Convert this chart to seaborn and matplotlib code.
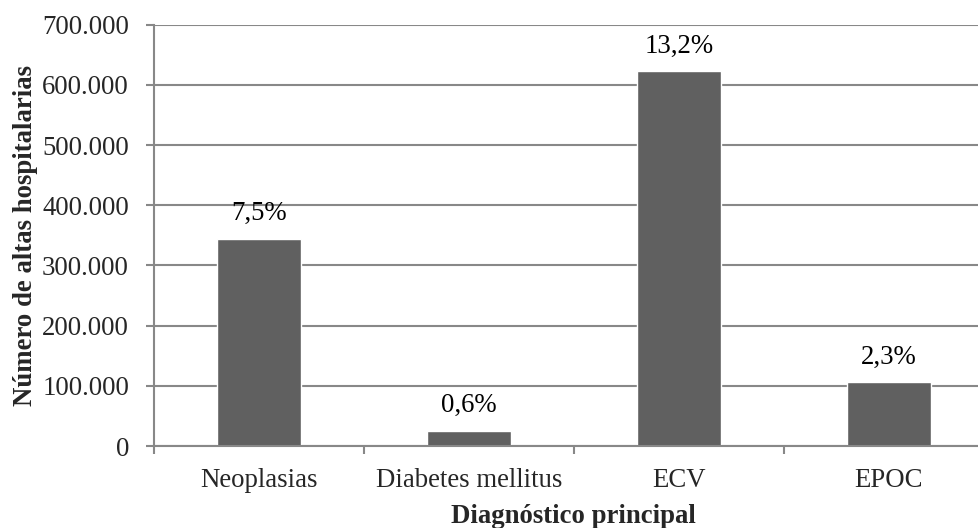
import matplotlib
matplotlib.use("Agg")
import matplotlib.pyplot as plt
import matplotlib.ticker as mticker
import seaborn as sns
import pandas as pd

# Data
categorias = ["Neoplasias", "Diabetes mellitus", "ECV", "EPOC"]
altas = [344300, 25400, 622400, 105800]
porcentajes = ["7,5%", "0,6%", "13,2%", "2,3%"]

sns.set_style("white")
plt.rcParams["font.family"] = ["Liberation Serif", "DejaVu Serif"]

df = pd.DataFrame({"diagnostico": categorias, "altas": altas})

fig = plt.figure(figsize=(9.79, 5.28), dpi=100)
ax = fig.add_axes([0.1573, 0.1553, 0.8577, 0.798])

sns.barplot(data=df, x="diagnostico", y="altas", color="#606060",
            saturation=1, width=0.4, ax=ax, zorder=3)

fs = 19.3
# Data labels
for i, (v, lab) in enumerate(zip(altas, porcentajes)):
    ax.annotate(lab, (i, v), xytext=(0, 9), textcoords="offset points",
                ha="center", va="bottom", fontsize=fs, color="black")

ax.set_ylim(0, 700000)
ax.set_xlim(-0.5, 3.5)
ax.yaxis.set_major_locator(mticker.MultipleLocator(100000))
ax.yaxis.set_major_formatter(
    mticker.FuncFormatter(lambda v, p: f"{int(v):,}".replace(",", ".")))

grid_col = "#888888"
ax.grid(axis="y", color=grid_col, linewidth=1.5, zorder=0)
ax.grid(axis="x", visible=False)
for s in ["top", "right"]:
    ax.spines[s].set_visible(False)
for s in ["left", "bottom"]:
    ax.spines[s].set_color(grid_col)
    ax.spines[s].set_linewidth(1.5)
    ax.spines[s].set_zorder(4)

# category boundaries get the visible x ticks
ax.set_xticks([-0.5, 0.5, 1.5, 2.5, 3.5], minor=True)
ax.tick_params(axis="x", which="minor", length=5.5, width=1.5, color=grid_col,
               direction="out", bottom=True)
ax.tick_params(axis="x", which="major", length=0, pad=16, labelsize=fs)
ax.tick_params(axis="y", which="major", length=6, width=1.5, color=grid_col,
               direction="out", left=True, pad=12, labelsize=fs)

ax.set_xlabel("Diagnóstico principal", fontsize=fs, fontweight="bold", labelpad=7.5)
ax.set_ylabel("Número de altas hospitalarias", fontsize=fs, fontweight="bold",
              labelpad=3)

fig.savefig("out.png", dpi=100)
